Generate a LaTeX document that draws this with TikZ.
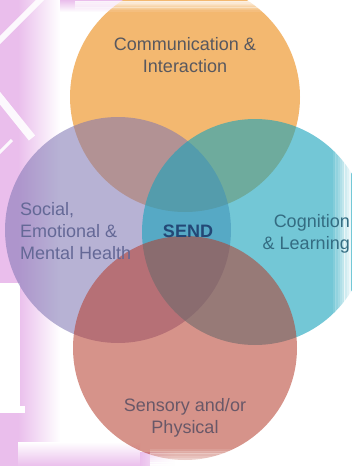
\documentclass[tikz,border=0pt]{standalone}
\usepackage{fontspec}
\setmainfont{Liberation Sans}
\definecolor{orangeC}{RGB}{243,184,112}
\definecolor{purpleC}{RGB}{125,116,178}
\definecolor{tealC}{RGB}{22,163,188}
\definecolor{redC}{RGB}{182,59,42}
\definecolor{pinkbg}{RGB}{234,190,236}
\definecolor{txtgray}{RGB}{88,88,95}
\definecolor{txtpurple}{RGB}{100,104,150}
\definecolor{txtteal}{RGB}{52,108,130}
\definecolor{txtsend}{RGB}{35,72,118}
\definecolor{txtred}{RGB}{105,88,104}
\begin{document}
\begin{tikzpicture}[x=1pt,y=-1pt,
  lbl/.style={font=\fontsize{18}{22}\selectfont, inner sep=0pt},
  venn/.style={circle, inner sep=0pt, draw=none},
  stripe/.style={white, opacity=0.9}]
\useasboundingbox (0,0) rectangle (351,466);
\fill[white] (0,0) rectangle (351,466);
% background decoration
\fill[pinkbg] (0,0) rectangle (18,466);
\shade[left color=pinkbg, right color=white] (18,0) rectangle (60,466);
\shade[top color=pinkbg, bottom color=white] (60,0) rectangle (180,12);
\shade[top color=white, bottom color=pinkbg] (18,442) rectangle (140,466);
\shade[left color=pinkbg, right color=white] (140,452) rectangle (175,466);
\draw[stripe, line width=6pt] (-5,45) -- (45,-5);
\draw[stripe, line width=8pt] (-5,92) -- (32,138);
\draw[stripe, line width=3pt] (-2,154) -- (12,140);
\fill[white] (0,283) rectangle (20,413);
\fill[white] (0,406) rectangle (25,413);
% circles
\node[venn, fill=orangeC, minimum size=230pt] (com) at (185,97) {};
\node[venn, fill=purpleC, fill opacity=0.55, minimum size=226pt] (semh) at (118,230) {};
\node[venn, fill=tealC, fill opacity=0.6, minimum size=226pt] (cog) at (255,232) {};
\node[venn, fill=redC, fill opacity=0.55, minimum size=224pt] (sen) at (185,348) {};
% edge fades
\foreach \i in {0,...,7}{
  \fill[white, opacity={(\i+1)/9}] ({333+\i*2.25},0) rectangle ({335.5+\i*2.25},466);
  \fill[white, opacity={(\i+1)/9}] (150,{449+\i*2.2}) rectangle (351,{451.5+\i*2.2});
  \fill[white, opacity={(\i+1)/10}] (75,{10-\i*1.3}) rectangle (300,{11.5-\i*1.3});
}
% labels
\node[lbl, text=txtgray, anchor=base] (t1a) at (185,50) {Communication \&};
\node[lbl, text=txtgray, anchor=base] (t1b) at (185,72) {Interaction};
\node[lbl, text=txtpurple, anchor=base west] (t2a) at (20,215) {Social,};
\node[lbl, text=txtpurple, anchor=base west] (t2b) at (20,237) {Emotional \&};
\node[lbl, text=txtpurple, anchor=base west] (t2c) at (20,259) {Mental Health};
\node[lbl, text=txtteal, anchor=base east] (t3a) at (350,227) {Cognition};
\node[lbl, text=txtteal, anchor=base east] (t3b) at (350,249) {\& Learning};
\node[lbl, text=txtsend, anchor=base, font=\fontsize{18}{22}\selectfont\bfseries] (send) at (188,237) {SEND};
\node[lbl, text=txtred, anchor=base] (t4a) at (185,411) {Sensory and/or};
\node[lbl, text=txtred, anchor=base] (t4b) at (185,433) {Physical};
\end{tikzpicture}
\end{document}
